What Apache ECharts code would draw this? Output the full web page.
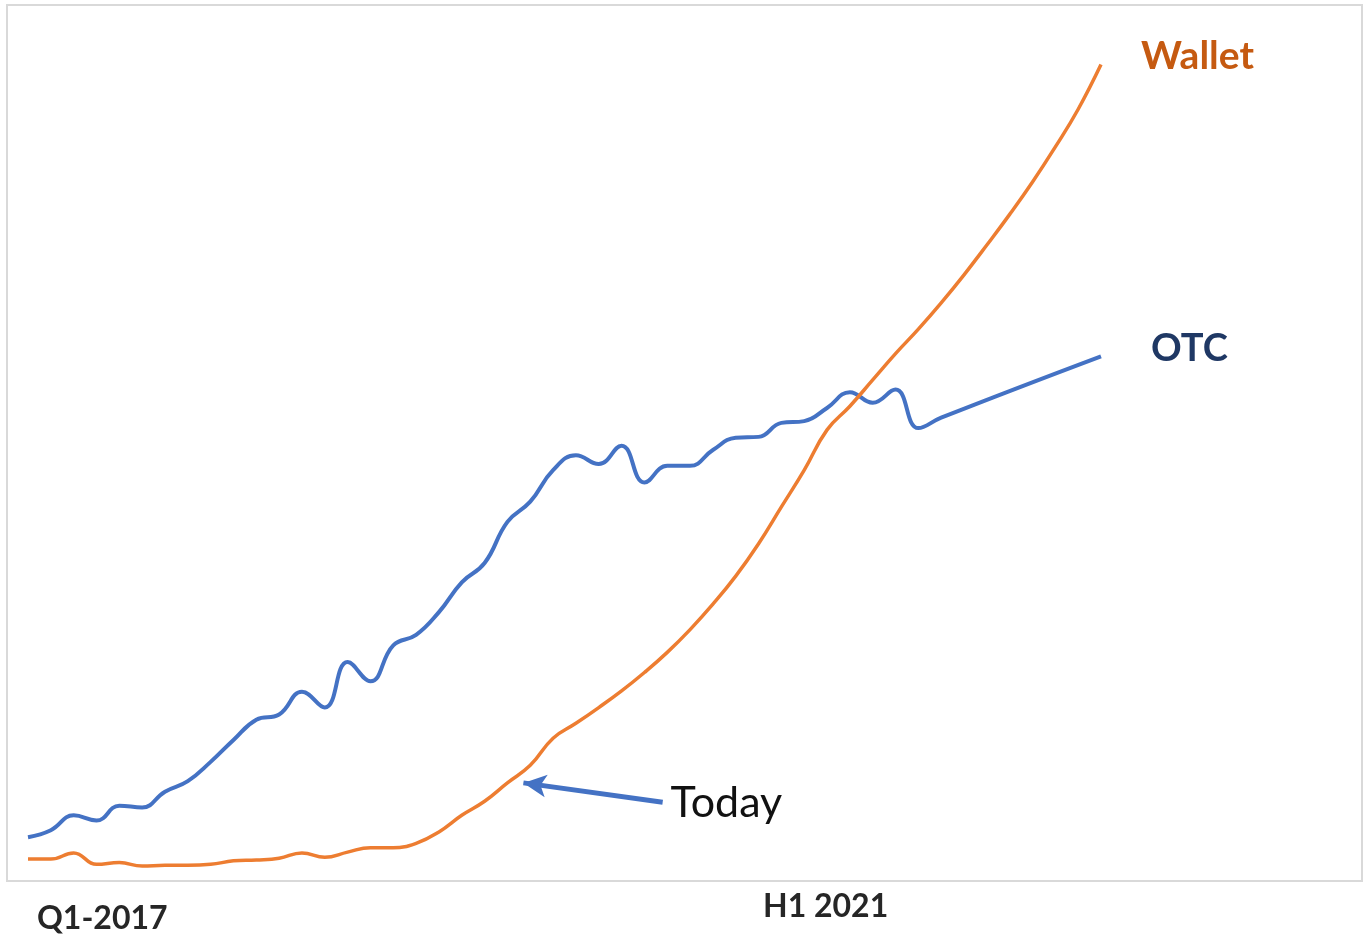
<!DOCTYPE html>
<html>
<head>
<meta charset="utf-8">
<title>OTC vs Wallet</title>
<script src="https://cdn.jsdelivr.net/npm/echarts@6/dist/echarts.min.js"></script>
<style>
  html, body { margin: 0; padding: 0; background: #ffffff; }
  #chart { width: 1363px; height: 935px; }
</style>
</head>
<body>
<div id="chart"></div>
<script>
// Period index along the horizontal axis (0 = Q1-2017)
const periods = Array.from({ length: 48 }, (_, i) => i);

// OTC volume index, read period by period; the last leg runs straight to the projection
const otcPeriods = [0, 1, 2, 3, 4, 5, 6, 7, 8, 9, 10, 11, 12, 13, 14, 15, 16, 17, 18, 19,
  20, 21, 22, 23, 24, 25, 26, 27, 28, 29, 30, 31, 32, 33, 34, 35, 36, 37, 38, 39, 40, 47];
const otcValues = [5.0, 5.8, 7.5, 6.9, 8.6, 8.4, 10.2, 11.4, 13.6, 16.1, 18.4, 19.0, 21.6, 19.8,
  25.0, 22.8, 26.9, 28.1, 30.7, 34.1, 36.3, 41.0, 43.3, 46.9, 48.6, 47.6, 49.7, 45.5, 47.4,
  47.4, 49.2, 50.6, 50.7, 52.3, 52.5, 54.0, 55.8, 54.6, 56.1, 51.7, 52.9, 59.9];

// Wallet volume index for every period
const walletValues = [2.5, 2.5, 3.2, 1.9, 2.1, 1.7, 1.8, 1.8, 1.9, 2.3, 2.4, 2.6, 3.2, 2.7,
  3.3, 3.8, 3.8, 4.3, 5.6, 7.5, 9.1, 11.2, 13.2, 16.3, 18.0, 19.8, 21.7, 23.8, 26.1, 28.7,
  31.6, 34.8, 38.5, 42.7, 46.9, 51.5, 54.2, 57.2, 60.2, 63.0, 66.0, 69.2, 72.6, 76.1, 79.8,
  83.8, 88.1, 93.2];

// "Today" pointer: tail and tip as [period, value]
const todayTail = [27.8, 9.0];
const todayTip = [21.7, 11.2];

// Period captions under the frame
const periodCaptions = ['Q1-2017', 'H1 2021'];

const BLUE = '#4472C4';
const ORANGE = '#ED7D31';
const FONT = 'Lato, "Open Sans", sans-serif';

const chart = echarts.init(document.getElementById('chart'), null, { renderer: 'canvas' });

chart.setOption({
  animation: false,
  backgroundColor: '#ffffff',
  grid: { left: 28, right: 262, top: 5, bottom: 54, containLabel: false },
  xAxis: { type: 'value', min: 0, max: periods.length - 1, show: false },
  yAxis: { type: 'value', min: 0, max: 100, show: false },
  graphic: [
    {
      type: 'rect', silent: true, z: -1,
      shape: { x: 7, y: 5, width: 1355, height: 876 },
      style: { fill: 'none', stroke: '#d9d9d9', lineWidth: 2 }
    },
    {
      type: 'text', left: 37, top: 903,
      style: { text: periodCaptions[0], font: 'bold 32px ' + FONT, fill: '#262626' }
    },
    {
      type: 'text', left: 763, top: 891,
      style: { text: periodCaptions[1], font: 'bold 32px ' + FONT, fill: '#262626' }
    }
  ],
  series: [
    {
      name: 'OTC',
      type: 'line',
      data: otcPeriods.map((p, i) => [p, otcValues[i]]),
      smooth: 0.45,
      showSymbol: false,
      lineStyle: { color: BLUE, width: 4 },
      itemStyle: { color: BLUE },
      endLabel: {
        show: true, formatter: 'OTC', distance: 50, offset: [0, -8],
        color: '#1F3864', fontFamily: FONT, fontWeight: 'bold', fontSize: 38
      },
      markLine: {
        silent: true,
        symbol: ['none', 'arrow'],
        symbolSize: [17, 23],
        lineStyle: { color: BLUE, width: 5, type: 'solid' },
        label: {
          show: true, position: 'start', formatter: 'Today', distance: 8,
          color: '#111111', fontFamily: FONT, fontSize: 43
        },
        data: [[{ coord: todayTail }, { coord: todayTip }]]
      }
    },
    {
      name: 'Wallet',
      type: 'line',
      data: periods.map((p, i) => [p, walletValues[i]]),
      smooth: 0.45,
      showSymbol: false,
      lineStyle: { color: ORANGE, width: 3.5 },
      itemStyle: { color: ORANGE },
      endLabel: {
        show: true, formatter: 'Wallet', distance: 40, offset: [0, -8],
        color: '#C55A11', fontFamily: FONT, fontWeight: 'bold', fontSize: 39
      }
    }
  ]
});
</script>
</body>
</html>
